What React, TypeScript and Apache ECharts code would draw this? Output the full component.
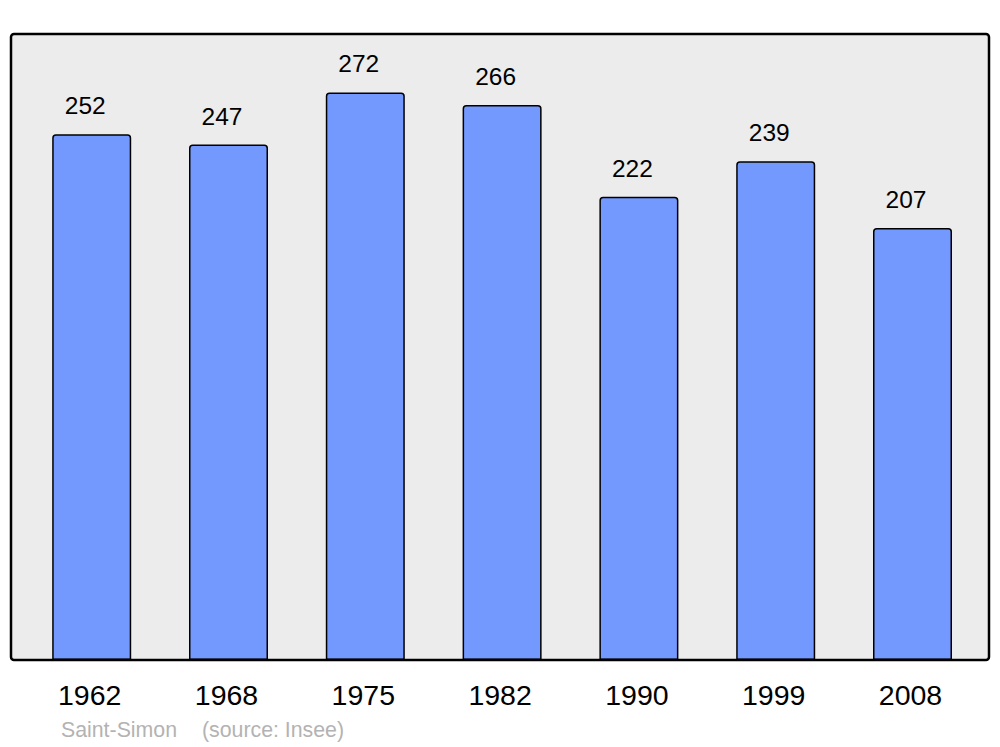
import React, { useEffect, useRef } from "react";
import * as echarts from "echarts";

const years = ["1962", "1968", "1975", "1982", "1990", "1999", "2008"];
const population = [252, 247, 272, 266, 222, 239, 207];
const sourceName = "Saint-Simon";
const sourceNote = "(source: Insee)";

export default function App() {
  const ref = useRef<HTMLDivElement>(null);
  useEffect(() => {
    if (!ref.current) return;
    const chart = echarts.init(ref.current, null, { renderer: "svg" });
    const font = "'Liberation Sans', Arial, sans-serif";
    chart.setOption({
      animation: false,
      textStyle: { fontFamily: font },
      grid: { left: 23.3, right: 19.1, top: 34, bottom: 87 },
      xAxis: {
        type: "category",
        data: years,
        axisLine: { show: false },
        axisTick: { show: false },
        axisLabel: { color: "#000", fontSize: 28.5, margin: 20, padding: [0, 4, 0, 0], fontFamily: font },
      },
      yAxis: { type: "value", min: 0, max: 300, show: false },
      graphic: [
        {
          type: "rect",
          z: -10,
          shape: { x: 11, y: 34, width: 978, height: 626, r: 3 },
          style: { fill: "#ececec", stroke: "none" },
        },
        {
          type: "rect",
          z: 100,
          shape: { x: 11, y: 34, width: 978, height: 626, r: 3 },
          style: { fill: "none", stroke: "#000", lineWidth: 2.5 },
        },
        {
          type: "text",
          x: 61,
          y: 730,
          style: { text: sourceName, fill: "#b3b3b3", font: `21.3px ${font}`, verticalAlign: "middle" },
        },
        {
          type: "text",
          x: 202,
          y: 730,
          style: { text: sourceNote, fill: "#b3b3b3", font: `21.3px ${font}`, verticalAlign: "middle" },
        },
      ],
      series: [
        {
          type: "bar",
          data: population,
          barWidth: 79,
          itemStyle: { color: "#7399ff", borderColor: "#000", borderWidth: 1.5, borderRadius: [3, 3, 0, 0] },
          label: {
            show: true,
            position: "top",
            distance: 16,
            offset: [-6.5, 0],
            color: "#000",
            fontSize: 24.5,
            fontFamily: font,
          },
        },
      ],
    });
    return () => chart.dispose();
  }, []);
  return <div ref={ref} style={{ width: 1000, height: 747, position: "absolute", left: 0, top: 0 }} />;
}
